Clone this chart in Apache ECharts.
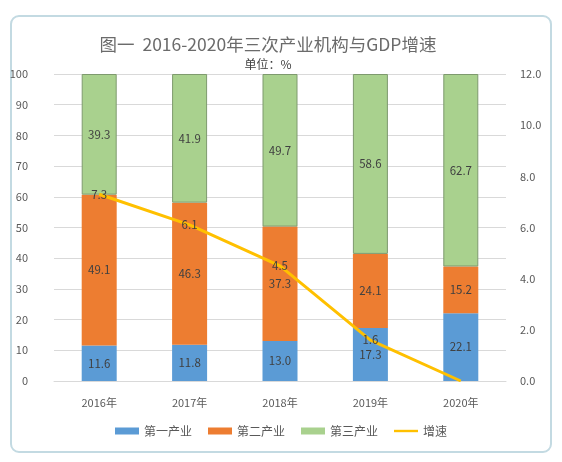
<!DOCTYPE html>
<html>
<head>
<meta charset="utf-8">
<script src="https://cdn.jsdelivr.net/npm/echarts@6/dist/echarts.min.js"></script>
<style>
html,body{margin:0;padding:0;background:#fff;}
#main{width:562px;height:462px;}
</style>
</head>
<body>
<div id="main"></div>
<script>
var years = ['2016年', '2017年', '2018年', '2019年', '2020年'];
var primary = [11.6, 11.8, 13.0, 17.3, 22.1];
var secondary = [49.1, 46.3, 37.3, 24.1, 15.2];
var tertiary = [39.3, 41.9, 49.7, 58.6, 62.7];
var growth = [7.3, 6.1, 4.5, 1.6, 0];

var font = '"Noto Sans CJK SC", "Microsoft YaHei", sans-serif';
var myChart = echarts.init(document.getElementById('main'));

var growthData = growth.map(function (v, i) {
    // 2020 has no visible label in the original
    return i === growth.length - 1 ? {value: v, label: {show: false}} : v;
});

var barLabel = {
    show: true,
    position: 'inside',
    color: '#404040',
    fontSize: 11.5,
    fontFamily: font,
    formatter: function (p) { return p.value.toFixed(1); }
};

var option = {
    textStyle: {fontFamily: font},
    title: [{
        text: '图一  2016-2020年三次产业机构与GDP增速',
        left: 263,
        textAlign: 'center',
        top: 31,
        textStyle: {fontSize: 17.5, fontWeight: 'normal', color: '#6b6b6b', fontFamily: font}
    }, {
        text: '单位：%',
        left: 263,
        textAlign: 'center',
        top: 53,
        textStyle: {fontSize: 12, fontWeight: 'normal', color: '#404040', fontFamily: font}
    }],
    graphic: [{
        type: 'rect',
        shape: {x: 11, y: 16, width: 540, height: 436, r: 8},
        style: {fill: 'none', stroke: '#c3dae2', lineWidth: 2},
        silent: true
    }],
    legend: {
        bottom: 20,
        itemWidth: 24,
        itemHeight: 7,
        itemGap: 16,
        textStyle: {fontSize: 12, color: '#595959', fontFamily: font},
        data: [
            {name: '第一产业', icon: 'rect'},
            {name: '第二产业', icon: 'rect'},
            {name: '第三产业', icon: 'rect', itemStyle: {borderWidth: 0}},
            {name: '增速', icon: 'path://M0,0 L30,0 L30,3 L0,3 Z', itemStyle: {color: '#ffc000', opacity: 1}}
        ]
    },
    grid: {left: 54, right: 56, top: 74, bottom: 81},
    xAxis: {
        type: 'category',
        data: years,
        axisLine: {lineStyle: {color: '#d9d9d9'}},
        axisTick: {show: false},
        axisLabel: {color: '#595959', fontSize: 11, margin: 16}
    },
    yAxis: [{
        type: 'value',
        min: 0,
        max: 100,
        interval: 10,
        axisLine: {show: false},
        axisTick: {show: false},
        axisLabel: {color: '#595959', fontSize: 11, margin: 26},
        splitLine: {lineStyle: {color: '#d9d9d9'}}
    }, {
        type: 'value',
        min: 0,
        max: 12,
        interval: 2,
        axisLine: {show: false},
        axisTick: {show: false},
        axisLabel: {
            color: '#595959', fontSize: 11, margin: 14,
            formatter: function (v) { return v.toFixed(1); }
        },
        splitLine: {show: false}
    }],
    series: [{
        name: '第一产业',
        type: 'bar',
        stack: 'total',
        barWidth: 35,
        data: primary,
        itemStyle: {color: '#5b9bd5'},
        label: barLabel
    }, {
        name: '第二产业',
        type: 'bar',
        stack: 'total',
        data: secondary,
        itemStyle: {color: '#ed7d31'},
        label: barLabel
    }, {
        name: '第三产业',
        type: 'bar',
        stack: 'total',
        data: tertiary,
        itemStyle: {color: '#a9d18e', borderColor: '#7e9a6e', borderWidth: 1},
        label: barLabel
    }, {
        name: '增速',
        type: 'line',
        yAxisIndex: 1,
        data: growthData,
        symbol: 'circle',
        symbolSize: 2,
        itemStyle: {color: 'rgba(255,192,0,0)'},
        lineStyle: {color: '#ffc000', width: 3},
        label: {
            show: true,
            position: 'inside',
            color: '#404040',
            fontSize: 11.5,
            formatter: function (p) { return p.value.toFixed(1); }
        },
        z: 5
    }]
};
myChart.setOption(option);
</script>
</body>
</html>
